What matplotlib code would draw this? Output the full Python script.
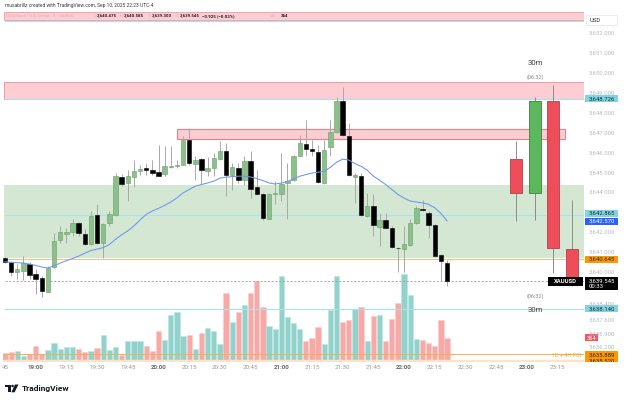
import matplotlib
matplotlib.use("Agg")
import matplotlib.pyplot as plt
from matplotlib.patches import Rectangle, Circle, Polygon
from matplotlib.transforms import Affine2D
import numpy as np

plt.rcParams['font.family'] = ['Roboto', 'DejaVu Sans']

# ---------------- data (3-minute XAUUSD candles, 18:45 .. 22:21) ----------------
opens = [3640.73, 3640.48, 3640.02, 3640.07, 3640.40, 3639.90, 3639.70, 3639.02, 3640.23, 3641.62,
         3641.90, 3642.03, 3642.45, 3641.90, 3641.40, 3642.85, 3641.48, 3642.48, 3642.85, 3644.78,
         3644.48, 3644.78, 3645.08, 3645.23, 3645.15, 3645.02, 3644.95, 3645.28, 3645.32, 3645.40,
         3646.65, 3645.45, 3645.68, 3645.07, 3645.23, 3645.70, 3646.07, 3644.90, 3645.23, 3644.65,
         3645.60, 3644.27, 3643.93, 3642.68, 3643.92, 3643.93, 3644.48, 3644.62, 3645.85, 3646.43,
         3646.18, 3646.02, 3644.48, 3646.28, 3647.03, 3648.62, 3646.85, 3644.78, 3644.82, 3642.82,
         3643.32, 3642.27, 3642.60, 3642.23, 3641.23, 3641.18, 3641.37, 3642.45, 3643.18, 3642.98,
         3642.35, 3640.85, 3640.475]
highs = [3640.78, 3640.57, 3640.40, 3640.82, 3640.52, 3640.15, 3639.82, 3640.28, 3641.98, 3642.32,
         3642.23, 3642.65, 3642.52, 3642.15, 3643.07, 3643.40, 3642.48, 3643.07, 3644.98, 3644.95,
         3645.15, 3645.65, 3645.40, 3645.48, 3645.65, 3646.40, 3646.32, 3646.32, 3645.65, 3646.82,
         3647.23, 3645.82, 3645.73, 3645.78, 3645.98, 3646.57, 3646.48, 3645.48, 3645.48, 3645.82,
         3646.10, 3645.15, 3643.98, 3643.98, 3644.57, 3645.98, 3645.48, 3645.90, 3646.90, 3647.65,
         3646.65, 3646.40, 3646.65, 3647.65, 3648.82, 3649.32, 3647.48, 3644.98, 3644.98, 3643.98,
         3643.90, 3642.98, 3642.98, 3642.32, 3641.27, 3642.32, 3642.65, 3643.32, 3643.62, 3643.07,
         3642.40, 3640.90, 3640.585]
lows = [3640.45, 3639.82, 3639.65, 3639.62, 3639.65, 3638.90, 3638.73, 3638.98, 3640.20, 3641.48,
        3641.45, 3641.82, 3641.82, 3641.37, 3641.37, 3641.40, 3640.73, 3642.32, 3642.82, 3644.35,
        3643.57, 3644.28, 3644.90, 3644.90, 3644.90, 3644.82, 3644.82, 3645.23, 3645.23, 3645.37,
        3645.40, 3644.65, 3644.45, 3644.82, 3644.82, 3645.65, 3643.82, 3644.15, 3644.48, 3644.40,
        3643.73, 3643.90, 3642.60, 3642.65, 3643.40, 3643.57, 3642.65, 3644.57, 3645.82, 3645.82,
        3645.82, 3644.48, 3644.45, 3645.82, 3646.98, 3646.82, 3644.82, 3643.48, 3642.82, 3642.78,
        3641.82, 3641.32, 3642.20, 3641.23, 3639.98, 3639.98, 3641.32, 3642.40, 3643.07, 3641.73,
        3640.78, 3639.57, 3639.300]
closes = [3640.52, 3640.02, 3640.15, 3640.43, 3639.85, 3639.65, 3639.07, 3640.20, 3641.57, 3642.03,
          3642.02, 3642.45, 3641.95, 3641.40, 3642.82, 3641.48, 3642.40, 3642.90, 3644.82, 3644.45,
          3644.85, 3645.10, 3645.18, 3645.15, 3644.98, 3644.85, 3645.32, 3645.35, 3645.40, 3646.65,
          3645.48, 3645.65, 3645.12, 3645.23, 3645.73, 3646.10, 3644.87, 3645.28, 3644.65, 3645.60,
          3644.20, 3643.93, 3642.70, 3643.93, 3643.98, 3644.45, 3644.57, 3645.85, 3646.48, 3646.20,
          3646.07, 3644.52, 3646.15, 3647.03, 3648.60, 3646.90, 3644.87, 3644.90, 3642.85, 3643.32,
          3642.37, 3642.60, 3642.23, 3641.27, 3641.20, 3641.40, 3642.45, 3643.20, 3643.12, 3642.37,
          3640.82, 3640.53, 3639.545]
volumes = [118, 139, 160, 75, 107, 235, 107, 171, 278, 193,
           214, 214, 188, 139, 160, 203, 407, 171, 219, 91,
           310, 310, 321, 235, 150, 471, 326, 733, 781, 396,
           417, 188, 449, 519, 476, 268, 1080, 620, 781, 898,
           1080, 1278, 861, 561, 508, 1353, 695, 609, 503, 316,
           359, 540, 263, 813, 1353, 620, 648, 824, 861, 310,
           711, 733, 316, 669, 930, 1385, 1048, 348, 326, 289,
           235, 648, 364]
ma_values = [3640.52, 3640.48, 3640.47, 3640.45, 3640.40, 3640.33, 3640.25, 3640.20, 3640.32, 3640.45,
             3640.57, 3640.68, 3640.80, 3640.95, 3641.08, 3641.15, 3641.23, 3641.38, 3641.65, 3641.87,
             3642.07, 3642.32, 3642.62, 3642.90, 3643.07, 3643.20, 3643.35, 3643.52, 3643.73, 3643.98,
             3644.15, 3644.32, 3644.40, 3644.48, 3644.57, 3644.72, 3644.77, 3644.80, 3644.82, 3644.82,
             3644.78, 3644.70, 3644.60, 3644.48, 3644.43, 3644.47, 3644.55, 3644.68, 3644.82, 3644.90,
             3644.98, 3645.02, 3645.07, 3645.27, 3645.52, 3645.68, 3645.63, 3645.45, 3645.32, 3645.12,
             3644.82, 3644.62, 3644.40, 3644.15, 3643.90, 3643.72, 3643.57, 3643.52, 3643.48, 3643.40,
             3643.23, 3642.95, 3642.57]

# 30-minute candles (20:30, 21:00, 21:30, 22:00)
htf_open = [3645.70, 3643.98, 3648.60, 3641.18]
htf_high = [3646.60, 3648.78, 3649.40, 3643.62]
htf_low = [3642.57, 3642.62, 3639.93, 3639.30]
htf_close = [3643.98, 3648.60, 3641.23, 3639.545]

time_labels = ["45", "19:00", "19:15", "19:30", "19:45", "20:00", "20:15", "20:30", "20:45",
               "21:00", "21:15", "21:30", "21:45", "22:00", "22:15", "22:30", "22:45", "23:00", "23:15"]
price_ticks = [3652, 3651, 3650, 3649, 3648, 3647, 3646, 3645, 3644, 3642, 3641, 3640,
               3638.4, 3637.6, 3636.9, 3636.2]

# zones / levels
zone_header = (3652.70, 3653.06)
zone_supply_hi = (3648.726, 3649.57)
zone_supply_mid = (3646.68, 3647.18)
zone_demand = (3640.70, 3644.38)
cyan_levels = [3652.65, 3648.726, 3642.865, 3638.140]
orange_level = 3640.645
poi_level = 3635.889
last_price = 3639.545
last_volume = 364

# ---------------- figure ----------------
W, H = 625, 401
fig = plt.figure(figsize=(W / 100, H / 100), dpi=100)
fig.patch.set_facecolor('white')
PX = Affine2D().scale(1, -1).translate(0, H)  # pixel coords from top-left

L, R, T, B = 3, 584, 0, 362
rect = [L / W, 1 - B / H, (R - L) / W, (B - T) / H]
vax = fig.add_axes(rect, zorder=0)
ax = fig.add_axes(rect, zorder=1)
ax.patch.set_alpha(0)

XMIN, XMAX = -0.326, 94.3
for a in (ax, vax):
    a.set_xlim(XMIN, XMAX)
ax.set_ylim(3635.474, 3653.683)
vax.set_ylim(-20.8, 5782)
vax.axis('off')
for s in ax.spines.values():
    s.set_visible(False)
ax.set_yticks([])

n = len(opens)
idx = np.arange(n)
o = np.array(opens); c = np.array(closes); h = np.array(highs); lo = np.array(lows)
up = c >= o

# volume
vax.bar(idx, volumes, width=0.86,
        color=np.where(up, '#92d2cc', '#f7a9a7'),
        edgecolor=np.where(up, '#bfe5e1', '#fbcfcd'), linewidth=0.4)

# zones
def zone(x0, x1, y, fc, ec=None, lw=0.6, z=1):
    ax.add_patch(Rectangle((x0, y[0]), x1 - x0, y[1] - y[0], facecolor=fc,
                           edgecolor=ec if ec else 'none', linewidth=lw, zorder=z))

zone(-0.16, XMAX, zone_header, '#fccdd2', '#ef9aa1')
zone(-0.16, XMAX, zone_supply_hi, '#fccdd2', '#ef8f97')
zone(28.0, 91.2, zone_supply_mid, '#fccdd2', '#ec7f89', lw=0.8)
zone(-0.16, XMAX, zone_demand, '#d4e7d3')
ax.axhspan(3635.40, 3635.55, color='#fde3c8', zorder=1)

for lv in cyan_levels:
    ax.axhline(lv, xmin=0.003, color='#a9e2ea', lw=0.8, zorder=2)
ax.axhline(orange_level, xmin=0.003, color='#f6bd7d', lw=0.7, zorder=2)
ax.axhline(poi_level, xmin=0.003, color='#f5b04a', lw=0.7, zorder=2)
ax.axhline(last_price, xmin=0.003, color='#9e9e9e', lw=0.6, ls=(0, (2.5, 2)), zorder=2)

# candles
ax.vlines(idx, lo, h, color='#a9a9a9', lw=0.7, zorder=3)
ax.bar(idx, np.maximum(np.abs(c - o), 0.03), bottom=np.minimum(o, c), width=0.72,
       color=np.where(up, '#8bbf8b', '#000000'),
       edgecolor=np.where(up, '#66a066', '#000000'), linewidth=0.4, zorder=4)
ax.plot(idx, ma_values, color='#6a95f2', lw=0.75, zorder=5)

# 30m candles
ho = np.array(htf_open); hc = np.array(htf_close)
hx = 83.3 + 3.0 * np.arange(len(ho))
hup = hc >= ho
ax.vlines(hx, htf_low, htf_high, color='#8c8c8c', lw=0.7, zorder=3)
ax.bar(hx, np.abs(hc - ho), bottom=np.minimum(ho, hc), width=1.95,
       color=np.where(hup, '#5cb85c', '#f04d5b'),
       edgecolor=np.where(hup, '#3f7f3f', '#a8444c'), linewidth=0.6, zorder=4)

# time axis
ax.set_xticks(np.arange(0, 5 * len(time_labels), 5))
ax.set_xticklabels(time_labels, fontsize=4.5, color='#9a9a9a')
ax.tick_params(axis='x', length=0, pad=2.2)
for lbl, t in zip(ax.get_xticklabels(), time_labels):
    if t.endswith(':00'):
        lbl.set_fontweight('bold')
        lbl.set_color('#6a6a6a')

def ytop(p, a=ax):
    return H - a.transData.transform((0, p))[1]

def ftext(x, y, s, **kw):
    kw.setdefault('zorder', 12)
    fig.text(x, y, s, transform=PX, **kw)

def frect(x0, y0, w, hh, fc, ec='none', lw=0, z=11):
    fig.add_artist(Rectangle((x0, y0), w, hh, facecolor=fc, edgecolor=ec,
                             linewidth=lw, transform=PX, zorder=z))

# price scale tick labels
for p in price_ticks:
    ftext(589, ytop(p), f"{p:,.3f}", fontsize=4.3, color='#b8bac2', va='center', ha='left')

# colored price labels
def plabel(yc, s, bg, fg, x0=585, x1=618, hh=7):
    frect(x0, yc - hh / 2, x1 - x0, hh, bg)
    ftext(589, yc + 0.2, s, fontsize=4.3, color=fg, va='center', ha='left')

plabel(ytop(3648.726), "3,648.726", '#7fd6e2', '#1e2a36')
plabel(ytop(3642.865) - 1.8, "3,642.865", '#7fd6e2', '#1e2a36')
plabel(ytop(3642.570) + 0.2, "3,642.570", '#2962ff', 'white')
plabel(ytop(orange_level), "3,640.645", '#ff9800', '#1e2a36')
plabel(ytop(3638.140), "3,638.140", '#7fd6e2', '#1e2a36')
plabel(ytop(poi_level) + 0.8, "3,635.889", '#ff9800', '#1e2a36')
plabel(ytop(poi_level) + 7.6, "3,635.520", '#ff9800', '#1e2a36')
yl = ytop(last_price)
frect(585, yl - 4, 33, 13, '#000000')
ftext(589, yl + 0.2, "3,639.545", fontsize=4.3, color='white', va='center', ha='left')
ftext(589, yl + 5.8, "00:33", fontsize=4.3, color='white', va='center', ha='left')
# volume label
yv = H - vax.transData.transform((0, last_volume))[1]
frect(585, yv - 3.5, 13, 7, '#f7525f')
ftext(591.5, yv + 0.2, f"{last_volume}", fontsize=4.2, color='white', va='center', ha='center')
# XAUUSD tag
frect(548, yl - 4.5, 35, 9, '#000000')
ftext(565.5, yl + 0.2, "XAUUSD", fontsize=4.2, color='white', va='center', ha='center', fontweight='bold')
ftext(581, 355.5, "1D + 4H POI", fontsize=3.9, color='#f5a623', va='center', ha='right')

# cover below plot on price scale
frect(584, 362, 41, 6, 'white', z=13)

# USD box
frect(586, 15, 31, 10, 'white', ec='#e6e6e6', lw=0.5)
ftext(590, 20.3, "USD", fontsize=4.2, color='#333333', va='center', ha='left')

# 30m annotations
ftext(535, 63, "30m", fontsize=5.6, color='#444444', va='center', ha='center')
ftext(535, 77.5, "(06:32)", fontsize=4.0, color='#8a8a8a', va='center', ha='center')
ftext(535, 296, "(06:32)", fontsize=4.0, color='#8a8a8a', va='center', ha='center')
ftext(535, 310.5, "30m", fontsize=5.6, color='#444444', va='center', ha='center')

# header
ftext(5, 5.5, "musabrillz created with TradingView.com, Sep 10, 2025 22:23 UTC-4",
      fontsize=3.5, color='#3a3a3a', va='center', ha='left')
hy = 16.0
ftext(6, hy, "Gold Spot / U.S. Dollar · 3 · OANDA", fontsize=3.2, color='#e3a9ae', va='center', ha='left')
for lab, lx, val, vx in [("O", 93.5, "3,640.475", 97), ("H", 120, "3,640.585", 124),
                         ("L", 148.5, "3,639.300", 152), ("C", 176, "3,639.545", 180)]:
    ftext(lx, hy, lab, fontsize=3.2, color='#e3a9ae', va='center', ha='left')
    ftext(vx, hy, val, fontsize=3.2, color='#1e1e1e', va='center', ha='left', fontweight='bold')
ftext(202, hy, "\u22120.925 (\u22120.03%)", fontsize=3.2, color='#1e1e1e', va='center', ha='left', fontweight='bold')
ftext(270, hy, "Vol", fontsize=3.2, color='#e3a9ae', va='center', ha='left')
ftext(281, hy, "364", fontsize=3.2, color='#1e1e1e', va='center', ha='left', fontweight='bold')

# TradingView logo
frect(5, 384.5, 6.2, 2.6, '#131722', z=12)
frect(8.0, 384.5, 3.0, 7.8, '#131722', z=12)
fig.add_artist(Circle((12.6, 386.0), 1.25, facecolor='#131722', transform=PX, zorder=12))
fig.add_artist(Polygon([(15.0, 384.5), (18.4, 384.5), (14.6, 392.3), (11.4, 392.3)],
                       closed=True, facecolor='#131722', transform=PX, zorder=12))
ftext(22, 388.4, "TradingView", fontsize=6.0, color='#131722', va='center', ha='left', fontweight='bold')

fig.savefig("out.png", dpi=100)
